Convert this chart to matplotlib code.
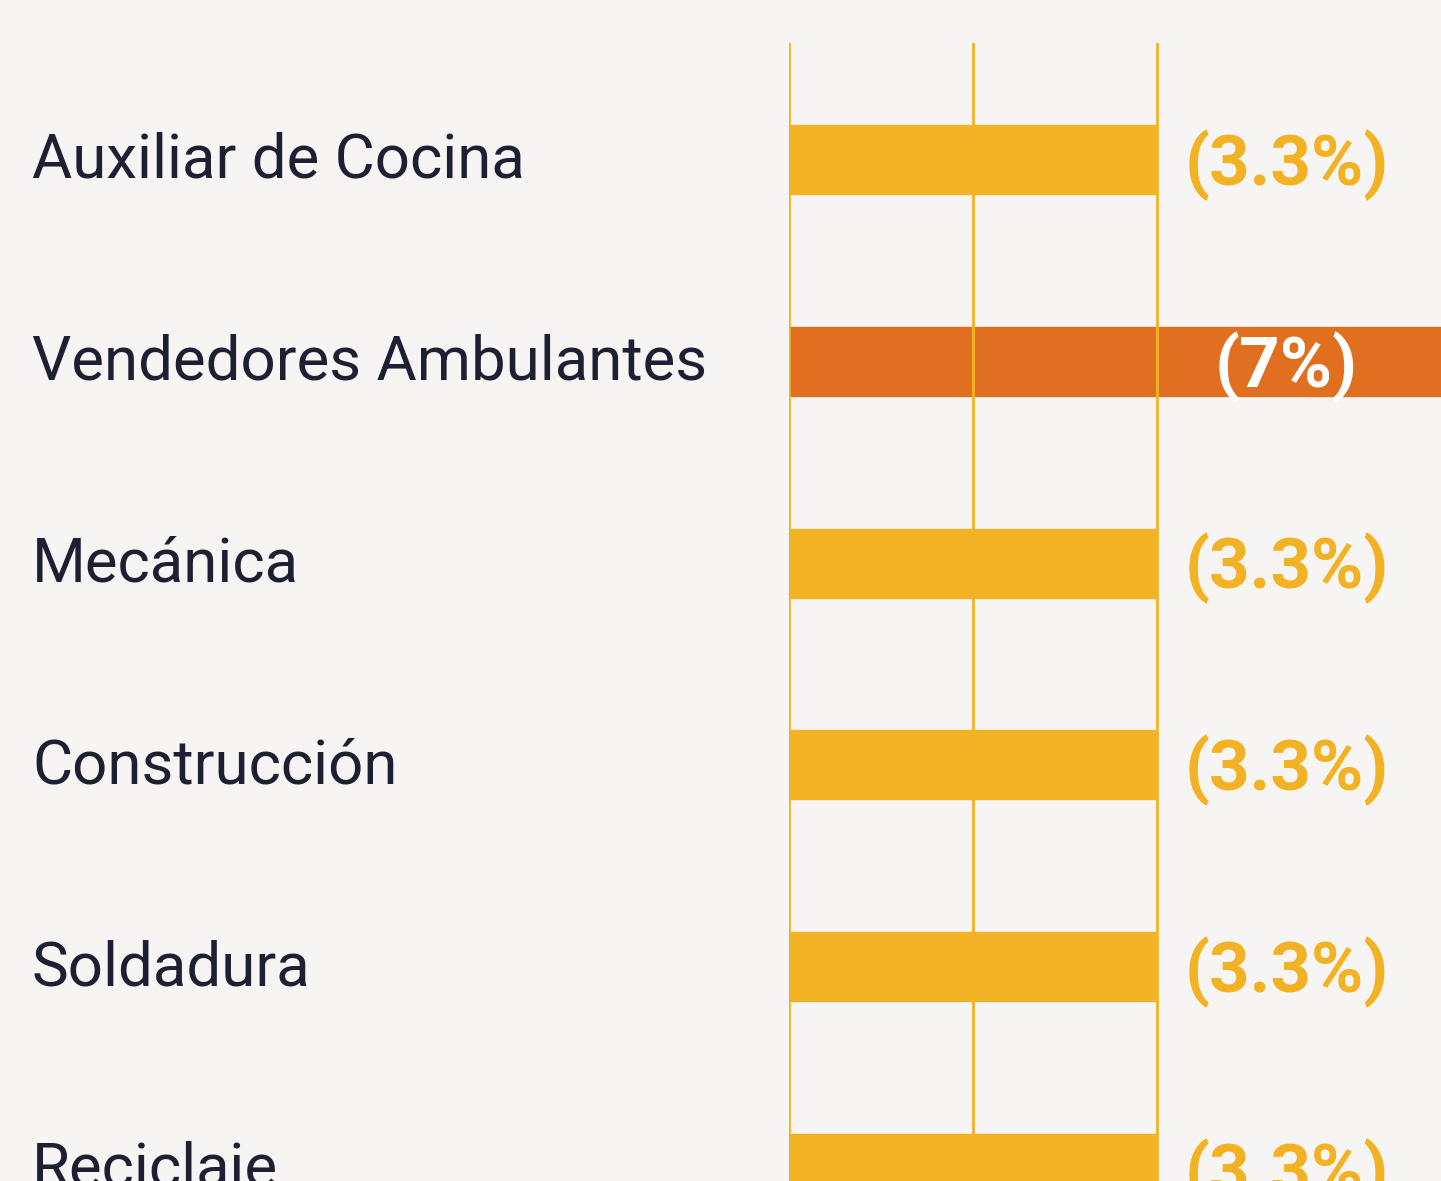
import numpy as np
import matplotlib
matplotlib.use('Agg')
import matplotlib.pyplot as plt
from matplotlib.transforms import blended_transform_factory

# data
categories = ['Auxiliar de Cocina', 'Vendedores Ambulantes', 'Mecánica',
              'Construcción', 'Soldadura', 'Reciclaje']
counts = [1, 2, 1, 1, 1, 1]
labels = ['(3.3%)', '(7%)', '(3.3%)', '(3.3%)', '(3.3%)', '(3.3%)']
highlight = [False, True, False, False, False, False]
grid_ticks = [0, 0.5, 1]

bg = '#f6f5f3'
yellow = '#f3b224'
orange = '#e06f1f'
ink = '#1f1f33'

fig = plt.figure(figsize=(14.41, 11.81), dpi=100, facecolor=bg)
ax = fig.add_axes([789 / 1441, 0, 652 / 1441, (1181 - 43) / 1181])
ax.set_facecolor(bg)

y = np.arange(len(categories))
colors = [orange if h else yellow for h in highlight]
ax.barh(y, counts, height=0.357, color=colors, edgecolor=bg, linewidth=1.2, zorder=1)

# vertical grid on top of the bars
for t in grid_ticks:
    ax.axvline(t, color=yellow, linewidth=2, zorder=2)

ax.set_xlim(0, 652 / 368)
ax.set_ylim((1181 - 160) / 201.8, (43 - 160) / 201.8)
ax.axis('off')

tr = blended_transform_factory(fig.transFigure, ax.transData)
for i, name in enumerate(categories):
    ax.text(32 / 1441, i + 0.089, name, transform=tr, ha='left', va='baseline',
            fontsize=44.5, color=ink, family='Roboto', clip_on=False)

for i, lab in enumerate(labels):
    ax.text(1.352, i + 0.124, lab, ha='center', va='baseline', fontsize=51,
            fontweight='bold', family='Roboto',
            color='white' if highlight[i] else yellow, zorder=3, clip_on=False)

fig.savefig('out.png', dpi=100, facecolor=bg)
